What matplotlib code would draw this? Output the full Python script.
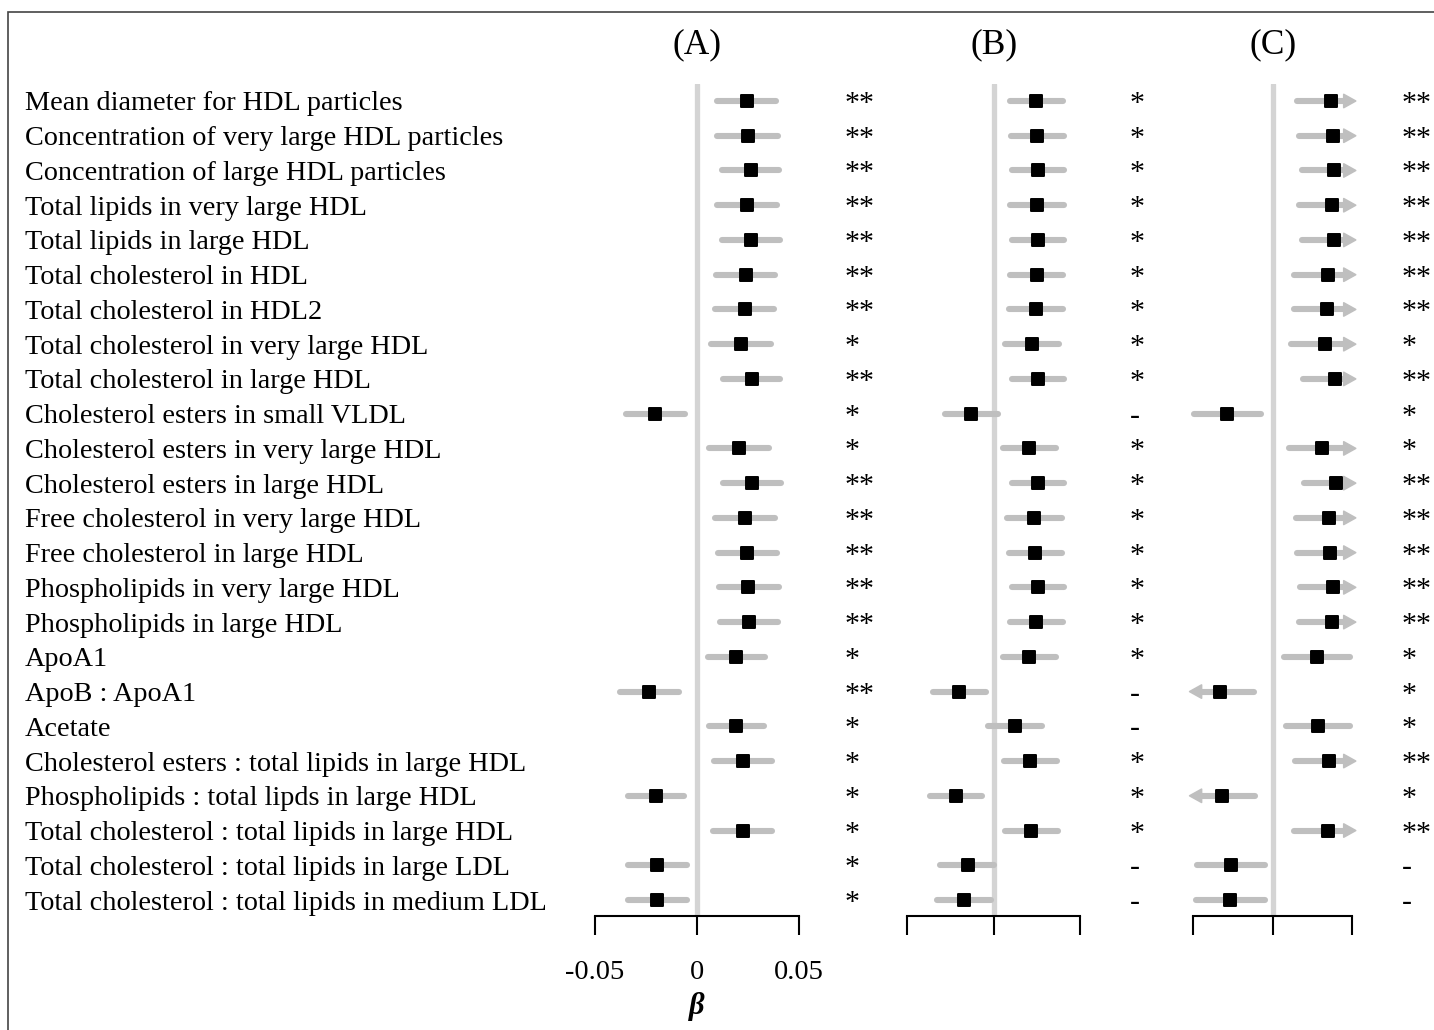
import numpy as np
import matplotlib.pyplot as plt
import matplotlib.transforms as mtransforms
from matplotlib.markers import MarkerStyle
from matplotlib.patches import Polygon, Rectangle

plt.rcParams['font.family'] = ['Liberation Serif', 'DejaVu Serif']

labels = [
    'Mean diameter for HDL particles',
    'Concentration of very large HDL particles',
    'Concentration of large HDL particles',
    'Total lipids in very large HDL',
    'Total lipids in large HDL',
    'Total cholesterol in HDL',
    'Total cholesterol in HDL2',
    'Total cholesterol in very large HDL',
    'Total cholesterol in large HDL',
    'Cholesterol esters in small VLDL',
    'Cholesterol esters in very large HDL',
    'Cholesterol esters in large HDL',
    'Free cholesterol in very large HDL',
    'Free cholesterol in large HDL',
    'Phospholipids in very large HDL',
    'Phospholipids in large HDL',
    'ApoA1',
    'ApoB : ApoA1',
    'Acetate',
    'Cholesterol esters : total lipids in large HDL',
    'Phospholipids : total lipds in large HDL',
    'Total cholesterol : total lipids in large HDL',
    'Total cholesterol : total lipids in large LDL',
    'Total cholesterol : total lipids in medium LDL',
]

# (A)
a_beta = [0.0245, 0.0250, 0.0265, 0.0248, 0.0265, 0.0239, 0.0234, 0.0215, 0.0269, -0.0203,
          0.0205, 0.0270, 0.0235, 0.0248, 0.0253, 0.0255, 0.0194, -0.0234, 0.0194, 0.0226,
          -0.0202, 0.0225, -0.0195, -0.0195]
a_lo = [0.0100, 0.0100, 0.0123, 0.0100, 0.0123, 0.0095, 0.0090, 0.0071, 0.0126, -0.0348,
        0.0059, 0.0130, 0.0087, 0.0105, 0.0108, 0.0112, 0.0054, -0.0375, 0.0058, 0.0084,
        -0.0340, 0.0081, -0.0339, -0.0339]
a_hi = [0.0389, 0.0398, 0.0403, 0.0393, 0.0406, 0.0382, 0.0378, 0.0364, 0.0410, -0.0060,
        0.0354, 0.0412, 0.0383, 0.0393, 0.0402, 0.0398, 0.0337, -0.0090, 0.0332, 0.0369,
        -0.0064, 0.0369, -0.0049, -0.0049]
a_sig = ['**', '**', '**', '**', '**', '**', '**', '*', '**', '*', '*', '**', '**', '**', '**', '**',
         '*', '**', '*', '*', '*', '*', '*', '*']

# (B)
b_beta = [0.0248, 0.0251, 0.0254, 0.0251, 0.0254, 0.0251, 0.0246, 0.0222, 0.0255, -0.0131,
          0.0207, 0.0257, 0.0236, 0.0240, 0.0255, 0.0248, 0.0206, -0.0200, 0.0123, 0.0208,
          -0.0219, 0.0214, -0.0151, -0.0173]
b_lo = [0.0094, 0.0098, 0.0104, 0.0094, 0.0104, 0.0094, 0.0090, 0.0067, 0.0108, -0.0284,
        0.0053, 0.0108, 0.0080, 0.0090, 0.0104, 0.0094, 0.0055, -0.0351, -0.0030, 0.0059,
        -0.0368, 0.0063, -0.0308, -0.0329]
b_hi = [0.0402, 0.0408, 0.0406, 0.0408, 0.0406, 0.0402, 0.0402, 0.0379, 0.0410, 0.0024,
        0.0362, 0.0410, 0.0394, 0.0394, 0.0410, 0.0400, 0.0361, -0.0047, 0.0281, 0.0366,
        -0.0068, 0.0370, 0.0003, -0.0014]
b_sig = ['*', '*', '*', '*', '*', '*', '*', '*', '*', '-', '*', '*', '*', '*', '*', '*',
         '*', '-', '-', '*', '*', '*', '-', '-']

# (C)
c_beta = [0.0365, 0.0380, 0.0388, 0.0377, 0.0388, 0.0348, 0.0344, 0.0329, 0.0394, -0.0286,
          0.0314, 0.0400, 0.0356, 0.0363, 0.0382, 0.0373, 0.0279, -0.0330, 0.0283, 0.0355,
          -0.0317, 0.0348, -0.0263, -0.0267]
c_lo = [0.0153, 0.0169, 0.0185, 0.0163, 0.0185, 0.0136, 0.0136, 0.0117, 0.0191, -0.0498,
        0.0100, 0.0195, 0.0144, 0.0153, 0.0174, 0.0163, 0.0069, -0.0540, 0.0081, 0.0140,
        -0.0524, 0.0136, -0.0477, -0.0481]
c_hi = [0.0577, 0.0591, 0.0591, 0.0591, 0.0591, 0.0560, 0.0552, 0.0541, 0.0597, -0.0076,
        0.0528, 0.0605, 0.0568, 0.0573, 0.0590, 0.0583, 0.0489, -0.0120, 0.0489, 0.0570,
        -0.0110, 0.0560, -0.0047, -0.0049]
c_sig = ['**', '**', '**', '**', '**', '**', '**', '*', '**', '*', '*', '**', '**', '**', '**', '**',
         '*', '*', '*', '**', '*', '**', '-', '-']

W, H = 1434, 1030
fig = plt.figure(figsize=(W / 100, H / 100), dpi=100)

# frame round the figure (only top/left visible in the original)
fig.patches.append(Rectangle((8 / W, -0.2), 1.5, 1.2 - 12 / H, transform=fig.transFigure,
                             fill=False, ec='#444444', lw=1.2))

n = len(labels)
y = np.arange(n)
row0, step = 101, 34.74
y_top, y_bot = 84, 916
ci_col = '#bfbfbf'
sq = MarkerStyle('s', joinstyle='round')


def panel(x0, x1, beta, lo, hi, sig, star_x, title, clip=None):
    ax = fig.add_axes([x0 / W, 1 - y_bot / H, (x1 - x0) / W, (y_bot - y_top) / H])
    ax.set_xlim(-0.05, 0.05)
    ax.set_ylim(n - 1 + (y_bot - (row0 + step * (n - 1))) / step, -(row0 - y_top) / step)
    for s in ['top', 'left', 'right']:
        ax.spines[s].set_visible(False)
    ax.spines['bottom'].set_linewidth(1.5)
    ax.set_yticks([])
    ax.set_xticks([-0.05, 0, 0.05])
    ax.tick_params(axis='x', direction='out', length=13.5, width=1.5, pad=18, labelsize=20.5)
    ax.axvline(0, color='#d4d4d4', lw=3.8, solid_capstyle='round', zorder=0)

    # arrow heads where the interval runs past the plotted range
    head = 0.0075
    hw = 0.19
    for yi, b, l, h in zip(y, beta, lo, hi):
        xl, xr = l, h
        if clip is not None and h > clip:
            xr = clip - head
            ax.add_patch(Polygon([[xr, yi - hw], [clip, yi], [xr, yi + hw]], closed=True,
                                 fc=ci_col, ec=ci_col, lw=1.2, joinstyle='round', clip_on=False, zorder=1))
        if clip is not None and l < -clip:
            xl = -clip + head
            ax.add_patch(Polygon([[xl, yi - hw], [-clip, yi], [xl, yi + hw]], closed=True,
                                 fc=ci_col, ec=ci_col, lw=1.2, joinstyle='round', clip_on=False, zorder=1))
        ax.plot([xl, xr], [yi, yi], color=ci_col, lw=4.4, solid_capstyle='round', clip_on=False, zorder=1)
    ax.plot(beta, y, ls='none', marker=sq, ms=8.4, mfc='black', mec='black', mew=1.4,
            clip_on=False, zorder=3)

    tr = mtransforms.blended_transform_factory(fig.transFigure, ax.transData)
    for yi, s in zip(y, sig):
        ax.text(star_x / W, yi, s, transform=tr, fontsize=21.5, ha='left', va='center_baseline')

    tt = mtransforms.blended_transform_factory(ax.transData, fig.transFigure)
    ax.text(0, 1 - 45 / H, title, transform=tt, fontsize=25.5, ha='center', va='center')
    return ax


axA = panel(595.0, 798.7, a_beta, a_lo, a_hi, a_sig, 845, '(A)')
axA.set_xticklabels(['-0.05', '0', '0.05'])
axA.set_xlabel('β', fontsize=22, fontweight='bold', fontstyle='italic', labelpad=5)

axB = panel(907.3, 1080.0, b_beta, b_lo, b_hi, b_sig, 1130, '(B)')
axB.set_xticklabels([])
axC = panel(1193.3, 1352.0, c_beta, c_lo, c_hi, c_sig, 1402, '(C)', clip=0.0523)
axC.set_xticklabels([])

lt = mtransforms.blended_transform_factory(fig.transFigure, axA.transData)
for yi, lab in zip(y, labels):
    fig.text(25 / W, yi, lab, transform=lt, fontsize=20.3, ha='left', va='center_baseline')

plt.savefig('out.png', dpi=100)
